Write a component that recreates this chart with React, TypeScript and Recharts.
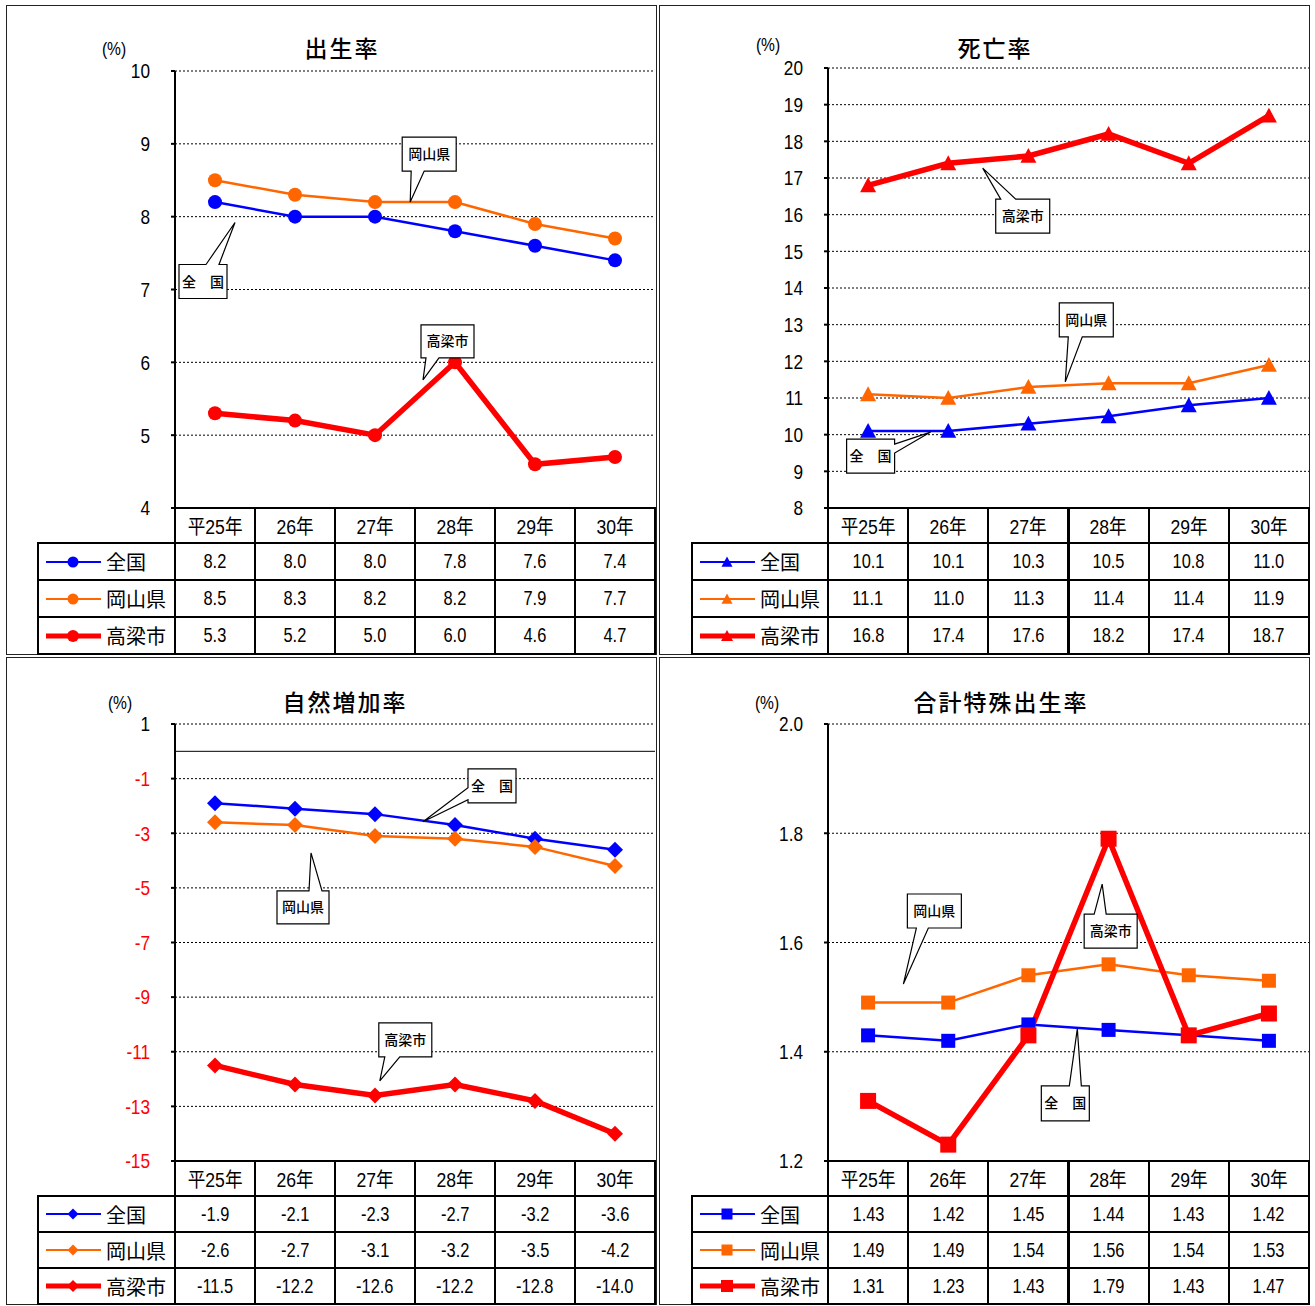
import React from "react";
import { LineChart, Line, XAxis, YAxis, CartesianGrid, ReferenceDot, ReferenceLine } from "recharts";

const years = ["平25年", "26年", "27年", "28年", "29年", "30年"];
const names = ["全国", "岡山県", "高梁市"];
const colors = ["#0000FF", "#FF6600", "#FF0000"];
const widths = [2.5, 2.5, 5.5];

// 出生率
const birthNation = [8.2, 8.0, 8.0, 7.8, 7.6, 7.4];
const birthPref = [8.5, 8.3, 8.2, 8.2, 7.9, 7.7];
const birthCity = [5.3, 5.2, 5.0, 6.0, 4.6, 4.7];
const birthTicks = [4, 5, 6, 7, 8, 9, 10];

// 死亡率
const deathNation = [10.1, 10.1, 10.3, 10.5, 10.8, 11.0];
const deathPref = [11.1, 11.0, 11.3, 11.4, 11.4, 11.9];
const deathCity = [16.8, 17.4, 17.6, 18.2, 17.4, 18.7];
const deathTicks = [8, 9, 10, 11, 12, 13, 14, 15, 16, 17, 18, 19, 20];

// 自然増加率
const growthNation = [-1.9, -2.1, -2.3, -2.7, -3.2, -3.6];
const growthPref = [-2.6, -2.7, -3.1, -3.2, -3.5, -4.2];
const growthCity = [-11.5, -12.2, -12.6, -12.2, -12.8, -14.0];
const growthTicks = [1, -1, -3, -5, -7, -9, -11, -13, -15];

// 合計特殊出生率
const tfrNation = [1.43, 1.42, 1.45, 1.44, 1.43, 1.42];
const tfrPref = [1.49, 1.49, 1.54, 1.56, 1.54, 1.53];
const tfrCity = [1.31, 1.23, 1.43, 1.79, 1.43, 1.47];
const tfrTicks = [1.2, 1.4, 1.6, 1.8, 2.0];

// Arial-metric font squeezed horizontally to look like Arial Narrow
const NUM_FONT = "'Liberation Sans','Arial','Noto Sans CJK JP',sans-serif";
const NARROW = 0.82;
const JP_FONT = "'Noto Sans CJK JP',sans-serif";
const YW = 60;

type Edge = "top" | "bottom" | "left" | "right";
type Callout = { label: string; x: number; y: number; bx: number; by: number; w: number; h: number; edge: Edge; a1: number; a2: number };

function calloutPath(c: Callout, tx: number, ty: number) {
  const x0 = tx + c.bx, y0 = ty + c.by, x1 = x0 + c.w, y1 = y0 + c.h;
  switch (c.edge) {
    case "bottom":
      return `M${x0},${y0} L${x1},${y0} L${x1},${y1} L${x0 + c.a2},${y1} L${tx},${ty} L${x0 + c.a1},${y1} L${x0},${y1} Z`;
    case "top":
      return `M${x0},${y0} L${x0 + c.a1},${y0} L${tx},${ty} L${x0 + c.a2},${y0} L${x1},${y0} L${x1},${y1} L${x0},${y1} Z`;
    case "left":
      return `M${x0},${y0} L${x1},${y0} L${x1},${y1} L${x0},${y1} L${x0},${y0 + c.a2} L${tx},${ty} L${x0},${y0 + c.a1} Z`;
    default:
      return `M${x0},${y0} L${x1},${y0} L${x1},${y0 + c.a1} L${tx},${ty} L${x1},${y0 + c.a2} L${x1},${y1} L${x0},${y1} Z`;
  }
}

function markerEl(shape: string, cx: number, cy: number, s: number, color: string, key?: any) {
  if (shape === "circle") return <circle key={key} cx={cx} cy={cy} r={s} fill={color} />;
  if (shape === "triangle")
    return <polygon key={key} points={`${cx},${cy - s} ${cx + s},${cy + s * 0.85} ${cx - s},${cy + s * 0.85}`} fill={color} />;
  if (shape === "diamond")
    return <polygon key={key} points={`${cx},${cy - s} ${cx + s},${cy} ${cx},${cy + s} ${cx - s},${cy}`} fill={color} />;
  return <rect key={key} x={cx - s} y={cy - s} width={2 * s} height={2 * s} fill={color} />;
}

const Narrow: React.FC<{ children: React.ReactNode; k?: number }> = ({ children, k = NARROW }) => (
  <span style={{ display: "inline-block", transform: `scaleX(${k})`, whiteSpace: "nowrap" }}>{children}</span>
);

type PanelCfg = {
  px: number; py: number; pw: number; ph: number;
  axisX: number; plotTop: number; plotBottom: number; plotRight: number;
  legendLeft: number; rowH: number;
  title: string; titleX: number; titleY: number; pctX: number; pctY: number;
  domain: [number, number]; ticks: number[]; digits: number; tickDigits: number;
  negRed?: boolean; zeroLine?: boolean;
  shape: string; sizes: number[];
  series: number[][];
  callouts: Callout[];
};

const Panel: React.FC<{ c: PanelCfg }> = ({ c }) => {
  const data = years.map((y, i) => ({ i, s0: c.series[0][i], s1: c.series[1][i], s2: c.series[2][i] }));
  const chartH = c.plotBottom - c.py + 30;
  const bw = (c.plotRight - c.axisX) / 6;
  const hdrH = 35;
  const cellStyle = (x: number, y: number, w: number, h: number): React.CSSProperties => ({
    position: "absolute", left: x - c.px - 1, top: y - c.py - 1, width: w + 2, height: h + 2,
    border: "2px solid #000", boxSizing: "border-box", background: "#fff",
    display: "flex", alignItems: "center", justifyContent: "center",
    fontFamily: NUM_FONT, fontSize: 20, color: "#000",
  });
  return (
    <div style={{ position: "absolute", left: c.px, top: c.py, width: c.pw, height: c.ph }}>
      <div style={{ position: "absolute", left: 0, top: 0, width: c.pw, height: c.ph, border: "1px solid #222", boxSizing: "border-box" }} />
      <div style={{ position: "absolute", left: c.titleX - c.px, top: c.titleY - c.py, transform: "translate(-50%,-50%)", fontFamily: JP_FONT, fontSize: 23, fontWeight: 500, letterSpacing: 2, whiteSpace: "nowrap" }}>{c.title}</div>
      <div style={{ position: "absolute", left: c.pctX - c.px, top: c.pctY - c.py, transform: "translate(-50%,-50%)", fontFamily: NUM_FONT, fontSize: 19 }}>
        <Narrow>(%)</Narrow>
      </div>
      <div style={{ position: "absolute", left: 0, top: 0 }}>
        <LineChart
          width={c.pw}
          height={chartH}
          data={data}
          margin={{ top: c.plotTop - c.py, left: c.axisX - c.px - YW, right: c.px + c.pw - c.plotRight, bottom: 30 }}
        >
          <CartesianGrid vertical={false} stroke="#000" strokeDasharray="2 2" strokeWidth={1} />
          <XAxis dataKey="i" type="number" domain={[-0.5, 5.5]} hide />
          <YAxis
            type="number"
            domain={c.domain}
            ticks={c.ticks}
            interval={0}
            width={YW}
            axisLine={{ stroke: "#000", strokeWidth: 2 }}
            tickLine={{ stroke: "#000", strokeWidth: 2 }}
            tickSize={4}
            tickMargin={21}
            tick={(p: any) => (
              <text
                transform={`translate(${p.x},${p.y}) scale(${NARROW},1)`}
                x={0}
                y={0}
                dy="0.35em"
                textAnchor="end"
                fontFamily={NUM_FONT}
                fontSize={21}
                fill={c.negRed && p.payload.value < 0 ? "#FF0000" : "#000"}
              >
                {Number(p.payload.value).toFixed(c.tickDigits)}
              </text>
            )}
          />
          {c.zeroLine && <ReferenceLine y={0} stroke="#000" strokeWidth={1} />}
          {[0, 1, 2].map((k) => (
            <Line
              key={k}
              dataKey={`s${k}`}
              stroke={colors[k]}
              strokeWidth={widths[k]}
              isAnimationActive={false}
              activeDot={false}
              dot={(p: any) => markerEl(c.shape, p.cx, p.cy, c.sizes[k], colors[k], `${k}-${p.index}`)}
            />
          ))}
          {c.callouts.map((co, n) => (
            <ReferenceDot
              key={n}
              x={co.x}
              y={co.y}
              r={0}
              ifOverflow="visible"
              shape={(p: any) => (
                <g>
                  <path d={calloutPath(co, p.cx, p.cy)} fill="#fff" stroke="#000" strokeWidth={1.2} />
                  <text
                    x={p.cx + co.bx + co.w / 2}
                    y={p.cy + co.by + co.h / 2}
                    dy="0.36em"
                    textAnchor="middle"
                    fontFamily={JP_FONT}
                    fontSize={14}
                    fontWeight={500}
                    fill="#000"
                  >
                    {co.label}
                  </text>
                </g>
              )}
            />
          ))}
        </LineChart>
      </div>
      {years.map((y, j) => (
        <div key={"h" + j} style={cellStyle(c.axisX + j * bw, c.plotBottom, bw, hdrH)}>
          <Narrow k={0.88}>{y}</Narrow>
        </div>
      ))}
      {names.map((nm, r) => {
        const top = c.plotBottom + hdrH + r * c.rowH;
        return (
          <React.Fragment key={"r" + r}>
            <div style={{ ...cellStyle(c.legendLeft, top, c.axisX - c.legendLeft, c.rowH), justifyContent: "flex-start" }}>
              <svg width={62} height={20} style={{ marginLeft: 5, flex: "none" }}>
                <line x1={2} y1={10} x2={57} y2={10} stroke={colors[r]} strokeWidth={r === 2 ? 5 : 2} />
                {markerEl(c.shape, 29, 10, r === 2 ? 6 : 5.5, colors[r])}
              </svg>
              <span style={{ fontFamily: JP_FONT, fontSize: 20, whiteSpace: "nowrap" }}>{nm}</span>
            </div>
            {c.series[r].map((v, j) => (
              <div key={j} style={cellStyle(c.axisX + j * bw, top, bw, c.rowH)}>
                <Narrow>{v.toFixed(c.digits)}</Narrow>
              </div>
            ))}
          </React.Fragment>
        );
      })}
    </div>
  );
};

const panels: PanelCfg[] = [
  {
    px: 6, py: 5, pw: 651, ph: 650, axisX: 175, plotTop: 71, plotBottom: 508, plotRight: 655,
    legendLeft: 38, rowH: 37, title: "出生率", titleX: 342, titleY: 47, pctX: 114, pctY: 49,
    domain: [4, 10], ticks: birthTicks, digits: 1, tickDigits: 0, shape: "circle", sizes: [7, 7, 7],
    series: [birthNation, birthPref, birthCity],
    callouts: [
      { label: "岡山県", x: 2.44, y: 8.2, bx: -8, by: -65, w: 54, h: 34, edge: "bottom", a1: 9, a2: 22 },
      { label: "全　国", x: 0.25, y: 7.92, bx: -56, by: 42, w: 48, h: 34, edge: "top", a1: 27, a2: 40 },
      { label: "高梁市", x: 2.6, y: 5.76, bx: -2, by: -55, w: 53, h: 33, edge: "bottom", a1: 5, a2: 18 },
    ],
  },
  {
    px: 659, py: 5, pw: 651, ph: 650, axisX: 828, plotTop: 68, plotBottom: 508, plotRight: 1309,
    legendLeft: 692, rowH: 37, title: "死亡率", titleX: 995, titleY: 47, pctX: 768, pctY: 45,
    domain: [8, 20], ticks: deathTicks, digits: 1, tickDigits: 0, shape: "triangle", sizes: [8, 8, 8],
    series: [deathNation, deathPref, deathCity],
    callouts: [
      { label: "高梁市", x: 1.43, y: 17.27, bx: 13, by: 31, w: 54, h: 34, edge: "top", a1: 5, a2: 20 },
      { label: "岡山県", x: 2.46, y: 11.44, bx: -6, by: -79, w: 54, h: 34, edge: "bottom", a1: 9, a2: 23 },
      { label: "全　国", x: 0.78, y: 10.07, bx: -84, by: 7, w: 48, h: 34, edge: "right", a1: 5, a2: 14 },
    ],
  },
  {
    px: 6, py: 657, pw: 651, ph: 648, axisX: 175, plotTop: 724, plotBottom: 1161, plotRight: 655,
    legendLeft: 38, rowH: 36, title: "自然増加率", titleX: 345, titleY: 701, pctX: 120, pctY: 703,
    domain: [-15, 1], ticks: growthTicks, digits: 1, tickDigits: 0, negRed: true, zeroLine: true,
    shape: "diamond", sizes: [8, 8, 8],
    series: [growthNation, growthPref, growthCity],
    callouts: [
      { label: "全　国", x: 2.6, y: -2.58, bx: 45, by: -53, w: 48, h: 34, edge: "left", a1: 19, a2: 31 },
      { label: "岡山県", x: 1.2, y: -3.72, bx: -34, by: 38, w: 52, h: 33, edge: "top", a1: 32, a2: 45 },
      { label: "高梁市", x: 2.06, y: -12.07, bx: -1, by: -58, w: 53, h: 34, edge: "bottom", a1: 6, a2: 21 },
    ],
  },
  {
    px: 659, py: 657, pw: 651, ph: 648, axisX: 828, plotTop: 724, plotBottom: 1161, plotRight: 1309,
    legendLeft: 692, rowH: 36, title: "合計特殊出生率", titleX: 1001, titleY: 701, pctX: 767, pctY: 703,
    domain: [1.2, 2.0], ticks: tfrTicks, digits: 2, tickDigits: 1, shape: "square", sizes: [7, 7, 8],
    series: [tfrNation, tfrPref, tfrCity],
    callouts: [
      { label: "岡山県", x: 0.44, y: 1.524, bx: 4, by: -90, w: 54, h: 34, edge: "bottom", a1: 9, a2: 21 },
      { label: "高梁市", x: 2.92, y: 1.707, bx: -18, by: 30, w: 53, h: 34, edge: "top", a1: 10, a2: 22 },
      { label: "全　国", x: 2.61, y: 1.442, bx: -36, by: 57, w: 48, h: 35, edge: "top", a1: 28, a2: 40 },
    ],
  },
];

export default function App() {
  return (
    <div style={{ position: "absolute", left: 0, top: 0, width: 1315, height: 1306, background: "#fff", overflow: "hidden" }}>
      {panels.map((p, n) => (
        <Panel key={n} c={p} />
      ))}
    </div>
  );
}
